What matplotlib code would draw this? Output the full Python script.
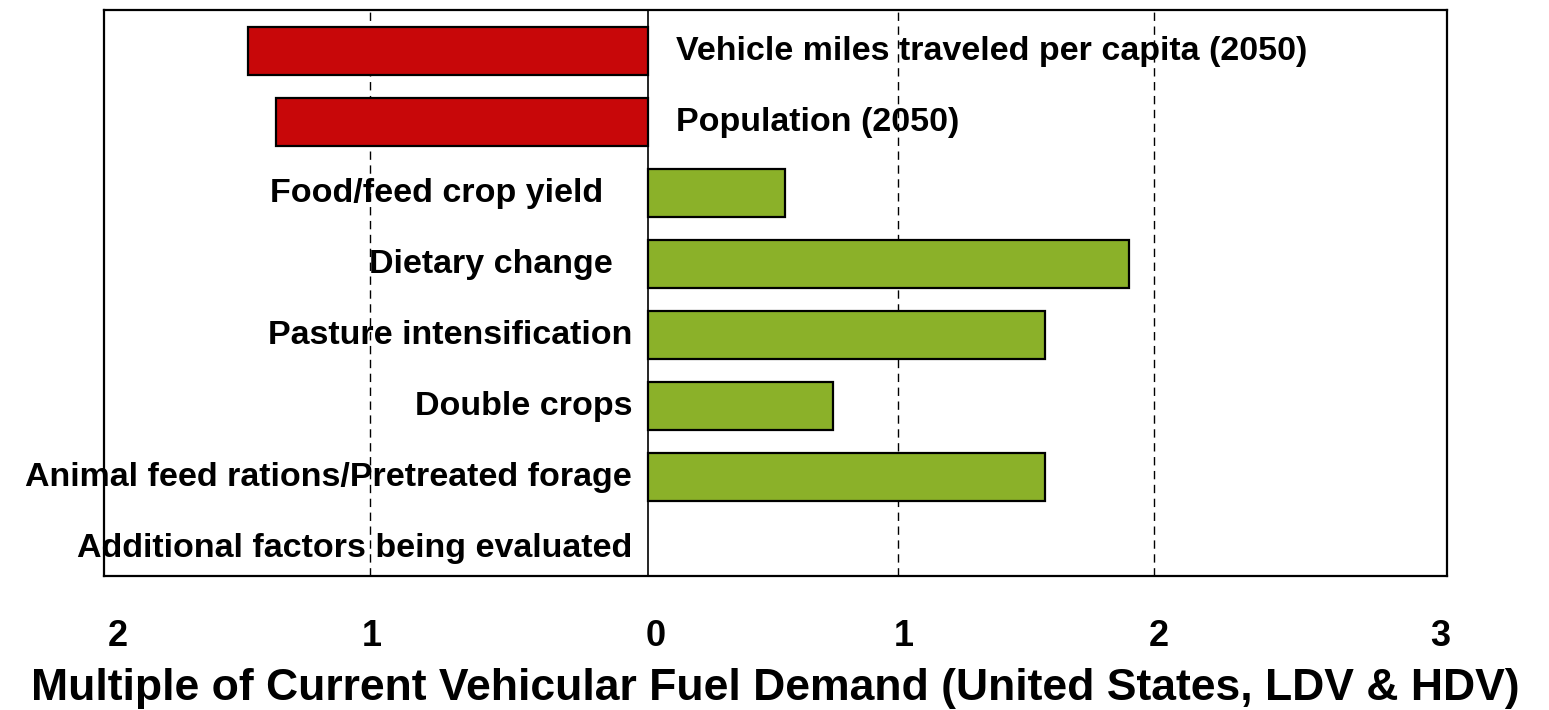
import matplotlib
matplotlib.use("Agg")
import matplotlib.pyplot as plt

plt.rcParams["font.family"] = ["Liberation Sans", "DejaVu Sans"]
plt.rcParams["font.weight"] = "bold"

# factors, top to bottom; negative = reduces available supply (drawn left of zero)
labels = ["Vehicle miles traveled per capita (2050)",
          "Population (2050)",
          "Food/feed crop yield   ",
          "Dietary change  ",
          "Pasture intensification",
          "Double crops",
          "Animal feed rations/Pretreated forage",
          "Additional factors being evaluated"]
values = [-1.58, -1.47, 0.54, 1.90, 1.57, 0.73, 1.57, 0.0]

tick_pos = [-2.095, -1.09, 0.03, 1.01, 2.02, 3.13]
tick_lab = ["2", "1", "0", "1", "2", "3"]
grid_pos = [-1.1, 0.99, 2.0]

RED = "#C80709"
GREEN = "#8BB129"

fig = plt.figure(figsize=(15.49, 7.10), dpi=100)
ax = fig.add_axes([0.0671, 0.189, 0.8671, 0.797])

ys = list(range(len(labels)))
for y, v, lab in zip(ys, values, labels):
    if v != 0:
        ax.barh(y, v, height=0.68, color=RED if v < 0 else GREEN,
                edgecolor="black", lw=1.6, zorder=3)
    if v < 0:
        ax.text(0.11, y, lab, ha="left", va="center", fontsize=24.5,
                fontweight="bold", zorder=4)
    else:
        ax.text(-0.063, y, lab, ha="right", va="center", fontsize=24.5,
                fontweight="bold", zorder=4)

for g in grid_pos:
    ax.axvline(g, color="black", lw=1.0, ls=(0, (6, 4)), zorder=1)
ax.axvline(0, color="black", lw=1.2, zorder=2)

ax.set_xlim(-2.150, 3.158)
ax.set_ylim(7.39, -0.58)
ax.set_yticks([])
ax.set_xticks(tick_pos)
ax.set_xticklabels(tick_lab, fontsize=26, fontweight="bold")
ax.tick_params(axis="x", length=0, pad=31)
ax.set_xlabel("Multiple of Current Vehicular Fuel Demand (United States, LDV & HDV)",
              fontsize=32, fontweight="bold", labelpad=10)
for s in ax.spines.values():
    s.set_linewidth(1.6)

fig.savefig("out.png", dpi=100)
